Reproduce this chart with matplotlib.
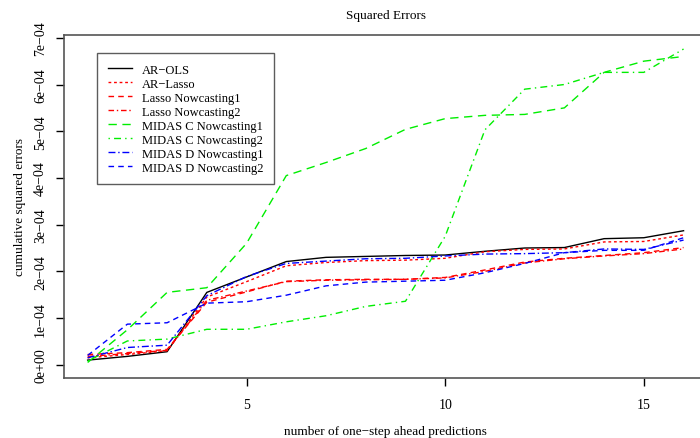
import numpy as np
import matplotlib.pyplot as plt
from matplotlib.ticker import FixedLocator

plt.rcParams['font.family'] = ['Liberation Serif', 'DejaVu Serif']

# number of one-step ahead predictions
steps = np.arange(1, 17)

# cumulative squared errors, in units of 1e-04
ar_ols = [0.10, 0.18, 0.28, 1.55, 1.88, 2.21, 2.30, 2.32, 2.34, 2.35, 2.43, 2.50, 2.51, 2.70, 2.72, 2.87]
ar_lasso = [0.15, 0.22, 0.30, 1.45, 1.78, 2.12, 2.19, 2.23, 2.24, 2.28, 2.42, 2.47, 2.48, 2.63, 2.64, 2.78]
lasso_now1 = [0.22, 0.26, 0.33, 1.34, 1.56, 1.79, 1.82, 1.83, 1.83, 1.87, 2.03, 2.20, 2.28, 2.34, 2.40, 2.51]
lasso_now2 = [0.18, 0.24, 0.31, 1.38, 1.58, 1.78, 1.81, 1.82, 1.83, 1.86, 2.00, 2.18, 2.27, 2.33, 2.38, 2.48]
midas_c_now1 = [0.05, 0.75, 1.55, 1.65, 2.60, 4.05, 4.33, 4.63, 5.04, 5.27, 5.34, 5.36, 5.50, 6.26, 6.50, 6.60]
midas_c_now2 = [0.08, 0.51, 0.55, 0.76, 0.76, 0.92, 1.05, 1.25, 1.36, 2.75, 5.03, 5.90, 6.00, 6.26, 6.26, 6.76]
midas_d_now1 = [0.15, 0.37, 0.42, 1.48, 1.89, 2.17, 2.22, 2.27, 2.28, 2.33, 2.37, 2.38, 2.40, 2.48, 2.47, 2.67]
midas_d_now2 = [0.20, 0.87, 0.90, 1.32, 1.35, 1.49, 1.69, 1.77, 1.79, 1.81, 1.97, 2.17, 2.40, 2.45, 2.45, 2.72]

series = [
    ("AR\u2212OLS", ar_ols, "black", "-"),
    ("AR\u2212Lasso", ar_lasso, "red", (0, (2, 2))),
    ("Lasso Nowcasting1", lasso_now1, "red", (0, (4, 3))),
    ("Lasso Nowcasting2", lasso_now2, "red", (0, (4, 2, 1, 2))),
    ("MIDAS C Nowcasting1", midas_c_now1, "#00ee00", (0, (6, 4))),
    ("MIDAS C Nowcasting2", midas_c_now2, "#00ee00", (0, (1, 3, 5, 3))),
    ("MIDAS D Nowcasting1", midas_d_now1, "blue", (0, (5, 2, 1, 2))),
    ("MIDAS D Nowcasting2", midas_d_now2, "blue", (0, (4, 3))),
]

fig = plt.figure(figsize=(7, 4.39), dpi=100)
ax = fig.add_axes([63.8 / 700, 60.5 / 439, 643.6 / 700, 342.5 / 439])

for label, vals, color, ls in series:
    ax.plot(steps, np.array(vals) * 1e-4, color=color, linestyle=ls, linewidth=1.0, label=label)

ax.set_xlim(0.4, 16.6)
ax.set_ylim(-0.272e-4, 7.06e-4)
ax.xaxis.set_major_locator(FixedLocator([5, 10, 15]))
yt = np.arange(0, 8) * 1e-4
ax.yaxis.set_major_locator(FixedLocator(yt))
ax.set_yticklabels(["0e+00"] + ["%de\u221204" % i for i in range(1, 8)],
                   rotation=90, va="center")

for sp in ax.spines.values():
    sp.set_color("#555555")
    sp.set_linewidth(1.2)
ax.tick_params(axis="x", length=6, width=1, pad=9, labelsize=10)
ax.tick_params(axis="y", length=6, width=1, pad=6, labelsize=10)

ax.set_title("Squared Errors", fontsize=9.5, pad=12)
ax.set_xlabel("number of one\u2212step ahead predictions", fontsize=9.5, labelpad=10)
ax.set_ylabel("cumulative squared errors", fontsize=9.5, labelpad=6)

leg = ax.legend(loc="upper left", bbox_to_anchor=(0.052, 0.947), fontsize=9,
                frameon=True, fancybox=False, edgecolor="#333333",
                handlelength=1.9, handletextpad=0.8, labelspacing=0.16,
                borderpad=0.85, borderaxespad=0)
leg.get_frame().set_linewidth(1.0)

fig.savefig("out.png", dpi=100)
